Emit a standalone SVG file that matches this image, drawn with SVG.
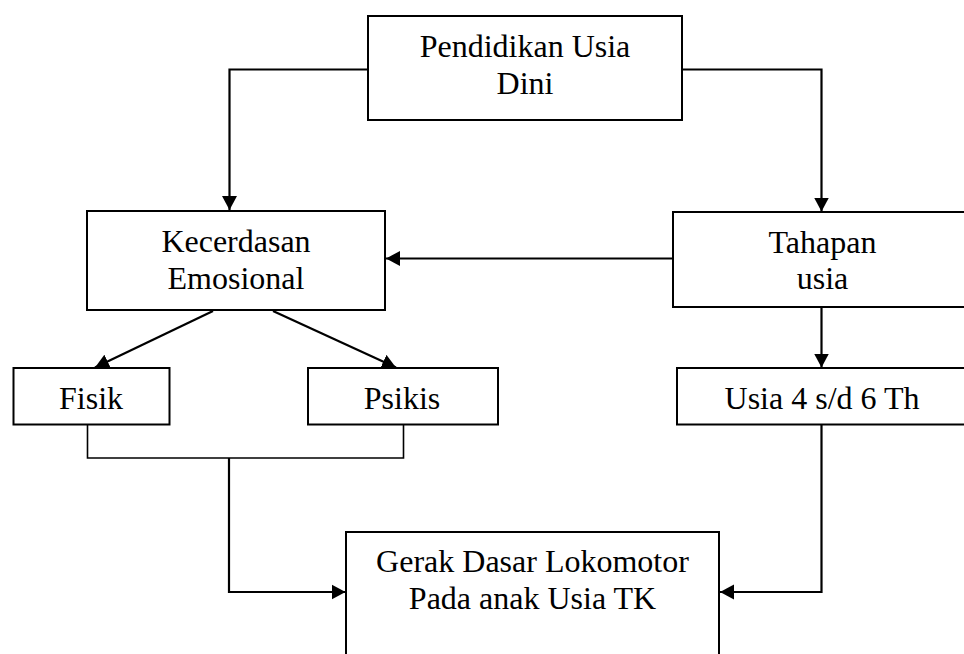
<svg xmlns="http://www.w3.org/2000/svg" width="964" height="654" viewBox="0 0 964 654">
  <defs>
    <marker id="arr" markerUnits="userSpaceOnUse" markerWidth="15" markerHeight="16" refX="14" refY="8" orient="auto">
      <path d="M0,0.5 L14,8 L0,15.5 z" fill="#000"/>
    </marker>
    <style>
      .box { fill: #fff; stroke: #000; stroke-width: 2; }
      .lbl { font-size: 32px; fill: #000; text-anchor: middle; }
      .con { fill: none; stroke: #000; stroke-width: 2.2; }
      .thin { fill: none; stroke: #000; stroke-width: 1.6; }
    </style>
  </defs>
  <rect width="964" height="654" fill="#fff"/>

  <g id="connectors">
    <path class="con" d="M368,69.5 H229.5 V210" marker-end="url(#arr)"/>
    <path class="con" d="M682,69.5 H821.5 V211.5" marker-end="url(#arr)"/>
    <path class="con" d="M673,258.5 H386" marker-end="url(#arr)"/>
    <path class="con" d="M213,311 L95,367.5" marker-end="url(#arr)"/>
    <path class="con" d="M273,311 L396,367.5" marker-end="url(#arr)"/>
    <path class="con" d="M821.5,307 V367.5" marker-end="url(#arr)"/>
    <path class="thin" d="M87.5,424.5 V458 H403.5 V424.5"/>
    <path class="con" d="M229,458 V592 H345.5" marker-end="url(#arr)"/>
    <path class="con" d="M821.5,424.5 V592 H720" marker-end="url(#arr)"/>
  </g>

  <g font-family="'Liberation Serif', 'DejaVu Serif', serif">
  <g id="pendidikan">
    <rect class="box" x="368" y="16" width="314" height="104"/>
    <text class="lbl" x="525" y="57">Pendidikan Usia</text>
    <text class="lbl" x="525" y="93.5">Dini</text>
  </g>
  <g id="kecerdasan">
    <rect class="box" x="87" y="211" width="298" height="99"/>
    <text class="lbl" x="236" y="252">Kecerdasan</text>
    <text class="lbl" x="236" y="288.5">Emosional</text>
  </g>
  <g id="tahapan">
    <rect class="box" x="673" y="212" width="300" height="95"/>
    <text class="lbl" x="822.5" y="252.5">Tahapan</text>
    <text class="lbl" x="822.5" y="289">usia</text>
  </g>
  <g id="fisik">
    <rect class="box" x="13.5" y="368" width="156" height="56.5"/>
    <text class="lbl" x="91" y="409">Fisik</text>
  </g>
  <g id="psikis">
    <rect class="box" x="308" y="368" width="190" height="56.5"/>
    <text class="lbl" x="402" y="409">Psikis</text>
  </g>
  <g id="usia46">
    <rect class="box" x="677" y="368" width="300" height="56.5"/>
    <text class="lbl" x="822" y="408.5">Usia 4 s/d 6 Th</text>
  </g>
  <g id="gerak">
    <rect class="box" x="346" y="532" width="373" height="130"/>
    <text class="lbl" x="532.5" y="572">Gerak Dasar Lokomotor</text>
    <text class="lbl" x="532.5" y="608.5">Pada anak Usia TK</text>
  </g>
  </g>
</svg>
